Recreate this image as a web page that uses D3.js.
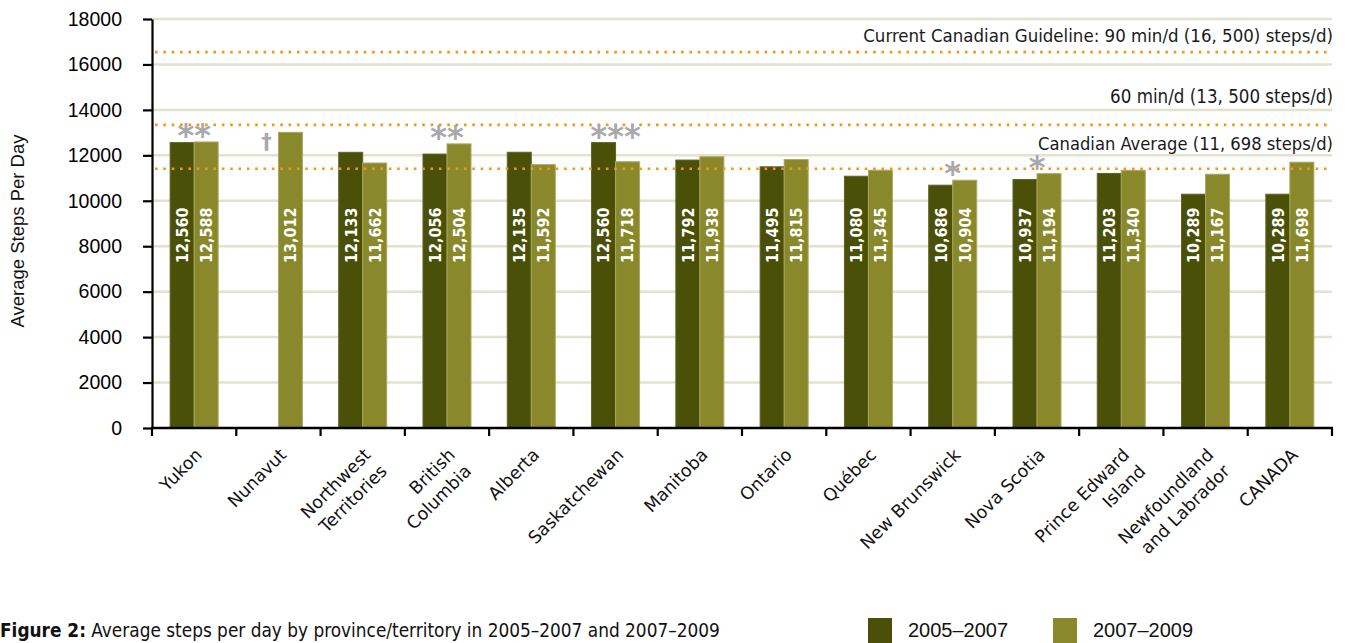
<!DOCTYPE html>
<html>
<head>
<meta charset="utf-8">
<script src="https://cdn.jsdelivr.net/npm/d3@7"></script>
<style>
  html, body { margin: 0; padding: 0; background: #ffffff; }
  svg { display: block; }
</style>
</head>
<body>
<svg id="chart" width="1351" height="643"></svg>
<script>
// ---------------- DATA ----------------
const categories = ["Yukon", "Nunavut", "Northwest\nTerritories", "British\nColumbia", "Alberta",
  "Saskatchewan", "Manitoba", "Ontario", "Québec", "New Brunswick", "Nova Scotia",
  "Prince Edward\nIsland", "Newfoundland\nand Labrador", "CANADA"];
const seriesNames = ["2005–2007", "2007–2009"];
const values2005_2007 = [12560, null, 12133, 12056, 12135, 12560, 11792, 11495, 11080, 10686, 10937, 11203, 10289, 10289];
const values2007_2009 = [12588, 13012, 11662, 12504, 11592, 11718, 11938, 11815, 11345, 10904, 11194, 11340, 11167, 11698];
const significance = ["**", "", "", "**", "", "***", "", "", "", "*", "*", "", "", ""];
const missingMark = ["", "†", "", "", "", "", "", "", "", "", "", "", "", ""];
const yTickValues = [0, 2000, 4000, 6000, 8000, 10000, 12000, 14000, 16000, 18000];
const refLineValues = [16540, 13340, 11410];
const refLineLabels = ["Current Canadian Guideline: 90 min/d (16, 500) steps/d)",
  "60 min/d (13, 500 steps/d)", "Canadian Average (11, 698 steps/d)"];
const yAxisTitle = "Average Steps Per Day";
const captionBold = "Figure 2:";
const captionText = " Average steps per day by province/territory in 2005–2007 and 2007–2009";

// ---------------- LAYOUT ----------------
const colors = ["#4b5009", "#89892b"];
const strokeColors = ["#5f6325", "#a9aa62"];
const plotLeft = 152, plotRight = 1332, plotTop = 19, plotBottom = 428;
const svg = d3.select("#chart");

function fitWidth(sel, widthFn) {
  sel.each(function (d, i) {
    const len = this.getComputedTextLength();
    const fs = parseFloat(this.getAttribute("font-size"));
    if (len > 0) this.setAttribute("font-size", (fs * widthFn(d, i) / len).toFixed(2));
  });
}

const x0 = d3.scaleBand().domain(d3.range(categories.length)).range([plotLeft, plotRight]).paddingInner(0).paddingOuter(0);
const x1 = d3.scaleBand().domain([0, 1]).range([0, x0.bandwidth()]).paddingInner(0).paddingOuter(0.755);
const y = d3.scaleLinear().domain([0, 18000]).range([plotBottom, plotTop]);

const series = [values2005_2007, values2007_2009];

// gridlines
svg.append("g").selectAll("line").data(yTickValues.filter(v => v > 0)).join("line")
  .attr("x1", plotLeft).attr("x2", plotRight)
  .attr("y1", d => y(d)).attr("y2", d => y(d))
  .attr("stroke", "#e3e2cf").attr("stroke-width", 2.5);

// bars
const barData = [];
categories.forEach((c, i) => {
  series.forEach((s, k) => { if (s[i] != null) barData.push({ i, k, v: s[i] }); });
});
svg.append("g").selectAll("rect").data(barData).join("rect")
  .attr("x", d => x0(d.i) + x1(d.k))
  .attr("width", x1.bandwidth())
  .attr("y", d => y(d.v))
  .attr("height", d => y(0) - y(d.v))
  .attr("fill", d => colors[d.k])
  .attr("stroke", d => strokeColors[d.k]).attr("stroke-width", 1);

// value labels
svg.append("g").selectAll("text").data(barData).join("text")
  .attr("transform", d => `translate(${x0(d.i) + x1(d.k) + x1.bandwidth() / 2},263) rotate(-90)`)
  .attr("dy", "0.37em")
  .attr("text-anchor", "start")
  .attr("fill", "#ffffff")
  .attr("font-family", "'DejaVu Sans Condensed', 'DejaVu Sans', sans-serif")
  .attr("font-weight", "bold")
  .attr("font-size", 16)
  .text(d => d3.format(",")(d.v));

// reference lines (dotted, on top of bars)
svg.append("g").selectAll("line").data(refLineValues).join("line")
  .attr("x1", plotLeft + 3).attr("x2", plotRight)
  .attr("y1", d => y(d)).attr("y2", d => y(d))
  .attr("stroke", "#f7941d").attr("stroke-width", 2.6)
  .attr("stroke-dasharray", "2.6 5.75");

const refLabelOffsets = [10.5, 21.5, 18.5];
const refLabelWidths = [470, 223, 295];
const refText = svg.append("g").selectAll("text").data(refLineLabels).join("text")
  .attr("x", 1333)
  .attr("y", (d, i) => y(refLineValues[i]) - refLabelOffsets[i])
  .attr("text-anchor", "end")
  .attr("fill", "#1a1a1a")
  .attr("font-family", "'Liberation Sans Narrow', 'DejaVu Sans Condensed', sans-serif")
  .attr("font-size", 20)
  .text(d => d);
fitWidth(refText, (d, i) => refLabelWidths[i]);

// significance asterisks
svg.append("g").selectAll("text").data(categories.map((c, i) => i).filter(i => significance[i])).join("text")
  .attr("x", i => x0(i) + x0.bandwidth() / 2)
  .attr("y", i => y(d3.max(series, s => s[i])) + 4)
  .attr("text-anchor", "middle")
  .attr("fill", "#a7a9ac")
  .attr("font-family", "'DejaVu Sans', sans-serif")
  .attr("font-weight", "bold")
  .attr("font-size", 32)
  .text(i => significance[i]);

// missing-data dagger
svg.append("g").selectAll("text").data(categories.map((c, i) => i).filter(i => missingMark[i])).join("text")
  .attr("x", i => x0(i) + x1(0) + x1.bandwidth() / 2)
  .attr("y", i => y(d3.max(series, s => s[i])) + 17)
  .attr("text-anchor", "middle")
  .attr("fill", "#a7a9ac")
  .attr("font-family", "'DejaVu Sans', sans-serif")
  .attr("font-weight", "bold")
  .attr("font-size", 21)
  .text(i => missingMark[i]);

// y axis
const yAxis = svg.append("g").attr("transform", `translate(${plotLeft},0)`)
  .call(d3.axisLeft(y).tickValues(yTickValues).tickSize(9).tickPadding(21).tickSizeOuter(0).tickFormat(d3.format("d")));
yAxis.select(".domain").attr("stroke", "#000").attr("stroke-width", 2.2);
yAxis.selectAll(".tick line").attr("stroke", "#000").attr("stroke-width", 2.2);
yAxis.selectAll(".tick text").attr("font-family", "'Liberation Sans', Arial, sans-serif")
  .attr("font-size", 19.5).attr("fill", "#000");

// x axis
const xb = svg.append("g");
xb.append("line").attr("x1", plotLeft - 1).attr("x2", plotRight + 1).attr("y1", plotBottom).attr("y2", plotBottom)
  .attr("stroke", "#000").attr("stroke-width", 2.5);
const boundaries = categories.map((c, i) => x0(i)).concat([x0(categories.length - 1) + x0.bandwidth()]);
xb.selectAll("line.tk").data(boundaries).join("line").attr("class", "tk")
  .attr("x1", d => d).attr("x2", d => d).attr("y1", plotBottom).attr("y2", plotBottom + 8)
  .attr("stroke", "#000").attr("stroke-width", 2.2);

const lineH = 23;
const xl = svg.append("g").selectAll("g").data(categories).join("g")
  .attr("transform", (d, i) => `translate(${x0(i) + x0.bandwidth() / 2 + 9},456) rotate(-45)`);
xl.each(function (d) {
  const lines = d.split("\n");
  d3.select(this).selectAll("text").data(lines).join("text")
    .attr("x", 0).attr("y", (t, j) => j * lineH)
    .attr("text-anchor", "end")
    .attr("fill", "#111")
    .attr("font-family", "'DejaVu Sans', sans-serif")
    .attr("font-size", 17.5)
    .text(t => t);
});

// y title
svg.append("text")
  .attr("transform", "translate(24,231) rotate(-90)")
  .attr("text-anchor", "middle")
  .attr("fill", "#111")
  .attr("font-family", "'Liberation Sans', Arial, sans-serif")
  .attr("font-size", 18.5)
  .text(yAxisTitle);

// caption
const cap = svg.append("text").attr("x", 0).attr("y", 637)
  .attr("fill", "#111")
  .attr("font-family", "'Liberation Sans Narrow', 'DejaVu Sans Condensed', sans-serif")
  .attr("font-size", 20);
cap.append("tspan").attr("font-weight", "bold").text(captionBold);
cap.append("tspan").text(captionText);
fitWidth(cap, () => 720);

// legend
const legendX = [868, 1053];
const lg = svg.append("g").selectAll("g").data(seriesNames).join("g")
  .attr("transform", (d, i) => `translate(${legendX[i]},618)`);
lg.append("rect").attr("width", 24).attr("height", 26).attr("fill", (d, i) => colors[i]);
lg.append("text").attr("x", 40).attr("y", 19)
  .attr("fill", "#111")
  .attr("font-family", "'Liberation Sans', Arial, sans-serif")
  .attr("font-size", 20)
  .text(d => d);
</script>
</body>
</html>
